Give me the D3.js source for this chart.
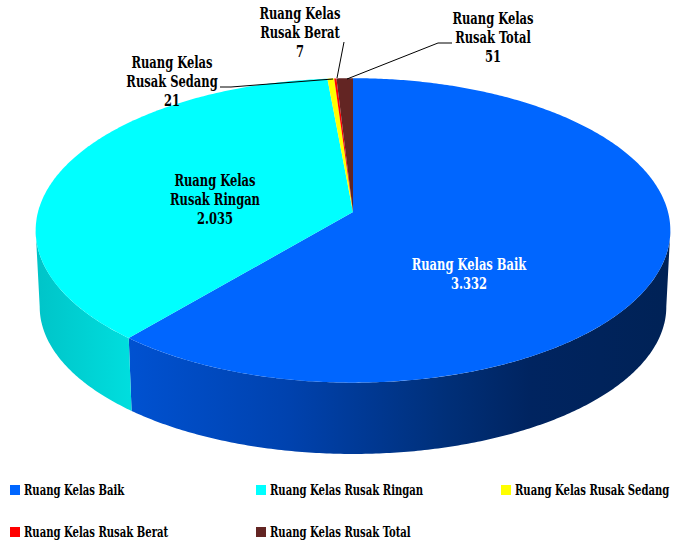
<!DOCTYPE html>
<html>
<head>
<meta charset="utf-8">
<script src="https://cdn.jsdelivr.net/npm/d3@7"></script>
<style>
  body { margin: 0; background: #fff; }
  svg { display: block; }
  .lbl { font-family: "DejaVu Serif Condensed", "DejaVu Serif", serif; font-weight: bold; font-size: 16px; }
  .leg { font-family: "DejaVu Serif Condensed", "DejaVu Serif", serif; font-weight: bold; font-size: 14px; fill: #000; }
</style>
</head>
<body>
<div id="chart"></div>
<script>
const categories = ["Ruang Kelas Baik", "Ruang Kelas Rusak Ringan", "Ruang Kelas Rusak Sedang", "Ruang Kelas Rusak Berat", "Ruang Kelas Rusak Total"];
const values = [3332, 2035, 21, 7, 51];
const valueLabels = ["3.332", "2.035", "21", "7", "51"];
const topColors = ["#0066FF", "#00FFFF", "#FFFF00", "#FF0000", "#632523"];
// label lines as shown on the chart
const labelLines = [
    ["Ruang Kelas Baik"],
    ["Ruang Kelas", "Rusak Ringan"],
    ["Ruang Kelas", "Rusak Sedang"],
    ["Ruang Kelas", "Rusak Berat"],
    ["Ruang Kelas", "Rusak Total"]
];

const width = 676, height = 542;
const cx = 353;
const k = 0.121; // perspective strength
const level = [
    { cy: 212, rx: 315, ry: 150 },  // top face
    { cy: 289, rx: 311, ry: 145 }   // bottom edge
];

const svg = d3.select('#chart').append('svg')
    .attr('width', width)
    .attr('height', height);

const defs = svg.append('defs');

// side gradients
const wallStops = [
    [[0, '#00c4c8'], [0.15, '#00dede']],
    [[0.14, '#0052d2'], [0.4, '#0042ae'], [0.65, '#002f78'], [0.78, '#002460'], [1, '#002256']]
];
wallStops.forEach((stops, i) => {
    const g = defs.append('linearGradient')
        .attr('id', 'wall' + i)
        .attr('gradientUnits', 'userSpaceOnUse')
        .attr('x1', 36).attr('x2', 670).attr('y1', 0).attr('y2', 0);
    stops.forEach(s => g.append('stop').attr('offset', s[0]).attr('stop-color', s[1]));
});
const wallFill = ['url(#wall1)', 'url(#wall0)', '#d8d800', '#c00000', '#4a1a18'];

// angle: radians clockwise from 12 o'clock
function proj(a, lv) {
    const p = level[lv];
    const X = Math.sin(a), Z = -Math.cos(a);
    const s = 1 / (1 - k * Z);
    return [cx + p.rx * X * s, p.cy + p.ry * Z * s];
}

function arcPoints(a0, a1, lv) {
    const n = Math.max(2, Math.ceil(Math.abs(a1 - a0) / 0.01));
    return d3.range(n + 1).map(i => proj(a0 + (a1 - a0) * i / n, lv));
}

const pie = d3.pie().sort(null).value(d => d);
const arcs = pie(values);

const line = d3.line();
const visStart = Math.acos(-k), visEnd = 2 * Math.PI - Math.acos(-k);

// walls
const walls = svg.append('g');
arcs.forEach((d, i) => {
    const a0 = Math.max(d.startAngle, visStart), a1 = Math.min(d.endAngle, visEnd);
    if (a0 >= a1) return;
    const pts = arcPoints(a0, a1, 0).concat(arcPoints(a1, a0, 1));
    walls.append('path')
        .attr('d', line(pts) + 'Z')
        .attr('fill', wallFill[i]);
});

// top faces
const tops = svg.append('g');
arcs.forEach((d, i) => {
    const pts = [[cx, level[0].cy]].concat(arcPoints(d.startAngle, d.endAngle, 0));
    tops.append('path')
        .attr('d', line(pts) + 'Z')
        .attr('fill', topColors[i]);
});

// leader lines
const leaders = [
    null,
    null,
    [[220, 87], [231, 87], [333, 79]],
    [[344, 42], [337, 78]],
    [[452, 43], [438, 43], [347, 79]]
];
svg.append('g').selectAll('path')
    .data(leaders.filter(l => l))
    .join('path')
    .attr('d', d => line(d))
    .attr('fill', 'none')
    .attr('stroke', '#000')
    .attr('stroke-width', 1);

// data labels (squeezed horizontally to mimic the condensed face)
const labelPos = [[469, 270], [215, 186], [172, 68], [300, 19], [493, 24]];
const labelColor = ['#fff', '#000', '#000', '#000', '#000'];
arcs.forEach((d, i) => {
    const t = svg.append('g')
        .attr('transform', `translate(${labelPos[i][0]},${labelPos[i][1]}) scale(0.8,1)`)
        .append('text')
        .attr('class', 'lbl')
        .attr('text-anchor', 'middle')
        .attr('fill', labelColor[i]);
    labelLines[i].concat([valueLabels[i]]).forEach((s, j) => {
        t.append('tspan')
            .attr('x', 0)
            .attr('y', j * 19)
            .text(s);
    });
});

// legend
const legendPos = [[10, 490], [256, 490], [501, 490], [10, 532], [256, 532]];
const legend = svg.append('g').selectAll('g')
    .data(categories)
    .join('g')
    .attr('transform', (d, i) => `translate(${legendPos[i][0]},${legendPos[i][1]})`);

legend.append('rect')
    .attr('x', 0).attr('y', -5)
    .attr('width', 10).attr('height', 10)
    .attr('fill', (d, i) => topColors[i]);

legend.append('text')
    .attr('class', 'leg')
    .attr('transform', 'translate(14,5) scale(0.8,1)')
    .text(d => d);
</script>
</body>
</html>
